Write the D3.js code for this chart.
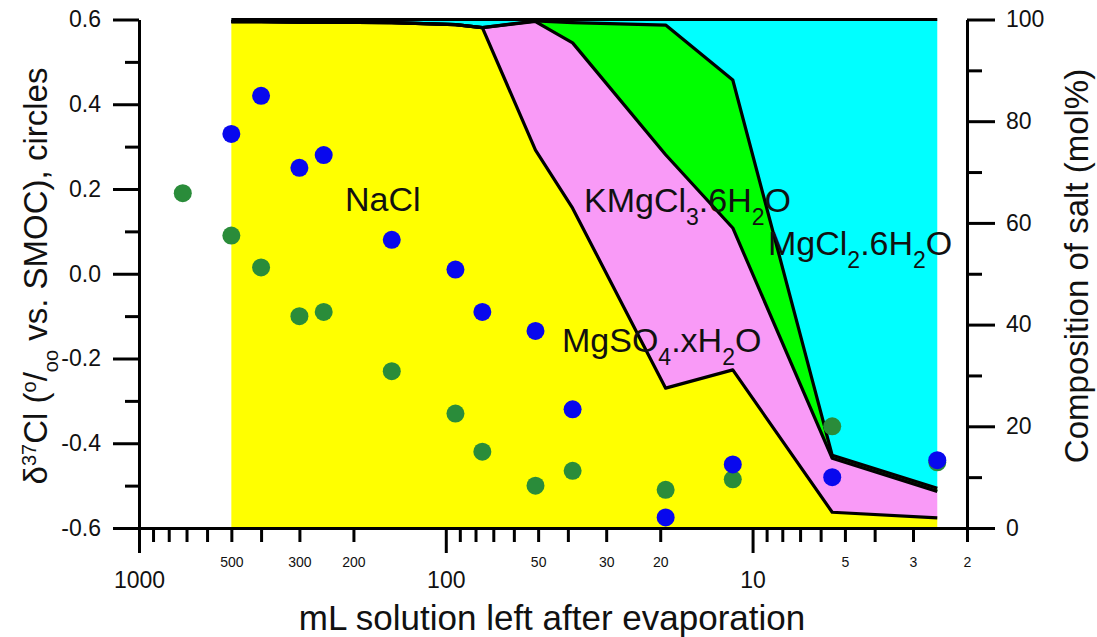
<!DOCTYPE html>
<html lang="en">
<head>
<meta charset="utf-8">
<script src="https://d3js.org/d3.v7.min.js"></script>
<style>
  body { margin: 0; background: #fff; }
  text { font-family: "Liberation Sans", Arial, sans-serif; fill: #111; }
</style>
</head>
<body>
<script>
// ---- data ----
// composition (mol%) at each evaporation step, mL left
const volumes = [500, 400, 300, 250, 150, 93, 76, 51, 38.6, 19.2, 11.6, 5.5, 2.5];
const nacl    = [99.6, 99.6, 99.5, 99.5, 99.4, 99.0, 98.4, 74.3, 62.9, 27.5, 31.1, 3.1, 2.0];
const mgso4   = [0, 0, 0, 0, 0, 0, 0, 25.3, 32.5, 45.9, 27.9, 10.6, 5.2];
const kmgcl3  = [0, 0, 0, 0, 0, 0, 0, 0.1, 4.0, 25.5, 29.1, 0.6, 0.6];
const mgcl2   = [0.4, 0.4, 0.5, 0.5, 0.6, 1.0, 1.6, 0.3, 0.6, 1.1, 11.9, 85.7, 92.2];

// d37Cl circles
const blueVol   = [500, 400, 300, 250, 150, 93, 76, 51, 38.6, 19.2, 11.6, 5.5, 2.5];
const blueD37   = [0.33, 0.42, 0.25, 0.28, 0.08, 0.01, -0.09, -0.135, -0.32, -0.575, -0.45, -0.48, -0.44];
const greenVol  = [720, 500, 400, 300, 250, 150, 93, 76, 51, 38.6, 19.2, 11.6, 5.5, 2.5];
const greenD37  = [0.19, 0.09, 0.015, -0.10, -0.09, -0.23, -0.33, -0.42, -0.50, -0.465, -0.51, -0.485, -0.36, -0.445];

const xMajor = [1000, 100, 10];
const xMinor = [900, 800, 700, 600, 500, 400, 300, 200, 90, 80, 70, 60, 50, 40, 30, 20, 9, 8, 7, 6, 5, 4, 3, 2];
const xMinorLabels = [500, 300, 200, 50, 30, 20, 5, 3, 2];
const leftMajor = [-0.6, -0.4, -0.2, 0.0, 0.2, 0.4, 0.6];
const leftMinor = [-0.5, -0.3, -0.1, 0.1, 0.3, 0.5];
const rightMajor = [0, 20, 40, 60, 80, 100];
const rightMinor = [10, 30, 50, 70, 90];

const salts = ["NaCl", "MgSO4", "KMgCl3", "MgCl2"];
const saltColour = {NaCl: "#ffff00", MgSO4: "#f99af7", KMgCl3: "#00ff00", MgCl2: "#00ffff"};

var width = 1097, height = 637;
var plotL = 139, plotR = 967, plotT = 19.5, plotB = 528;

var svg = d3.select("body").append("svg")
            .attr("width", width)
            .attr("height", height);

var x = d3.scaleLog().domain([1000, 2]).range([plotL, plotR]);
var yL = d3.scaleLinear().domain([-0.6, 0.6]).range([plotB, plotT]);
var yR = d3.scaleLinear().domain([0, 100]).range([plotB, plotT]);

// stacked composition areas
var table = volumes.map((v, i) => ({vol: v, NaCl: nacl[i], MgSO4: mgso4[i], KMgCl3: kmgcl3[i], MgCl2: mgcl2[i]}));
var series = d3.stack().keys(salts)(table);

var area = d3.area()
             .x(d => x(d.data.vol))
             .y0(d => yR(d[0]))
             .y1(d => yR(d[1]));

svg.append("g").selectAll("path")
   .data(series).enter().append("path")
   .attr("d", area)
   .attr("fill", d => saltColour[d.key]);

var edge = d3.line()
             .x(d => x(d.data.vol))
             .y(d => yR(d[1]));

svg.append("g").selectAll("path")
   .data(series).enter().append("path")
   .attr("d", edge)
   .attr("fill", "none")
   .attr("stroke", "#000")
   .attr("stroke-width", 3.2)
   .attr("stroke-linejoin", "round");

// salt labels
function chem(g, xPos, yPos, parts) {
    var t = g.append("text").attr("x", xPos).attr("y", yPos).attr("font-size", 34);
    parts.forEach(p => {
        var s = t.append("tspan").text(p[0]);
        if (p[1]) s.attr("baseline-shift", "sub").attr("font-size", 23);
    });
}
var labels = svg.append("g");
chem(labels, 345, 211, [["NaCl"]]);
chem(labels, 584, 212, [["KMgCl"], ["3", 1], [".6H"], ["2", 1], ["O"]]);
chem(labels, 768, 255, [["MgCl"], ["2", 1], [".6H"], ["2", 1], ["O"]]);
chem(labels, 562, 352, [["MgSO"], ["4", 1], [".xH"], ["2", 1], ["O"]]);

// circles
svg.append("g").selectAll("circle")
   .data(greenVol).enter().append("circle")
   .attr("cx", d => x(d))
   .attr("cy", (d, i) => yL(greenD37[i]))
   .attr("r", 9)
   .attr("fill", "#2a8c3a");

svg.append("g").selectAll("circle")
   .data(blueVol).enter().append("circle")
   .attr("cx", d => x(d))
   .attr("cy", (d, i) => yL(blueD37[i]))
   .attr("r", 9)
   .attr("fill", "#0808ee");

// axes
function styleAxis(g) {
    g.selectAll("path, line").attr("stroke", "#000").attr("stroke-width", 3);
    g.selectAll("text").attr("fill", "#111").attr("font-family", "Liberation Sans, Arial, sans-serif");
}

svg.append("g").attr("transform", "translate(0," + plotB + ")")
   .call(d3.axisBottom(x).tickValues(xMinor).tickSize(14).tickSizeOuter(0).tickPadding(15)
         .tickFormat(d => xMinorLabels.includes(d) ? d : ""))
   .call(styleAxis)
   .selectAll("text").attr("font-size", 14);

svg.append("g").attr("transform", "translate(0," + plotB + ")")
   .call(d3.axisBottom(x).tickValues(xMajor).tickSize(25).tickSizeOuter(0).tickPadding(19)
         .tickFormat(d => d))
   .call(styleAxis)
   .selectAll("text").attr("font-size", 23);

svg.append("g").attr("transform", "translate(" + plotL + ",0)")
   .call(d3.axisLeft(yL).tickValues(leftMinor).tickSize(14).tickSizeOuter(0).tickFormat(""))
   .call(styleAxis);

svg.append("g").attr("transform", "translate(" + plotL + ",0)")
   .call(d3.axisLeft(yL).tickValues(leftMajor).tickSize(26).tickSizeOuter(0).tickPadding(12)
         .tickFormat(d => d.toFixed(1)))
   .call(styleAxis)
   .selectAll("text").attr("font-size", 23);

svg.append("g").attr("transform", "translate(" + plotR + ",0)")
   .call(d3.axisRight(yR).tickValues(rightMinor).tickSize(15).tickSizeOuter(0).tickFormat(""))
   .call(styleAxis);

svg.append("g").attr("transform", "translate(" + plotR + ",0)")
   .call(d3.axisRight(yR).tickValues(rightMajor).tickSize(28).tickSizeOuter(0).tickPadding(11))
   .call(styleAxis)
   .selectAll("text").attr("font-size", 23);

// axis titles
svg.append("text")
   .attr("x", 552).attr("y", 630)
   .attr("text-anchor", "middle").attr("font-size", 35)
   .text("mL solution left after evaporation");

svg.append("text")
   .attr("transform", "translate(1088,266) rotate(-90)")
   .attr("text-anchor", "middle").attr("font-size", 33)
   .text("Composition of salt (mol%)");

var lt = svg.append("text")
   .attr("transform", "translate(47,276) rotate(-90)")
   .attr("text-anchor", "middle").attr("font-size", 33);
lt.append("tspan").text("\u03b4");
lt.append("tspan").text("37").attr("baseline-shift", "super").attr("font-size", 20);
lt.append("tspan").text("Cl (");
lt.append("tspan").text("o").attr("baseline-shift", "super").attr("font-size", 20);
lt.append("tspan").text("/");
lt.append("tspan").text("oo").attr("baseline-shift", "sub").attr("font-size", 20);
lt.append("tspan").text(" vs. SMOC), circles");
</script>
</body>
</html>
